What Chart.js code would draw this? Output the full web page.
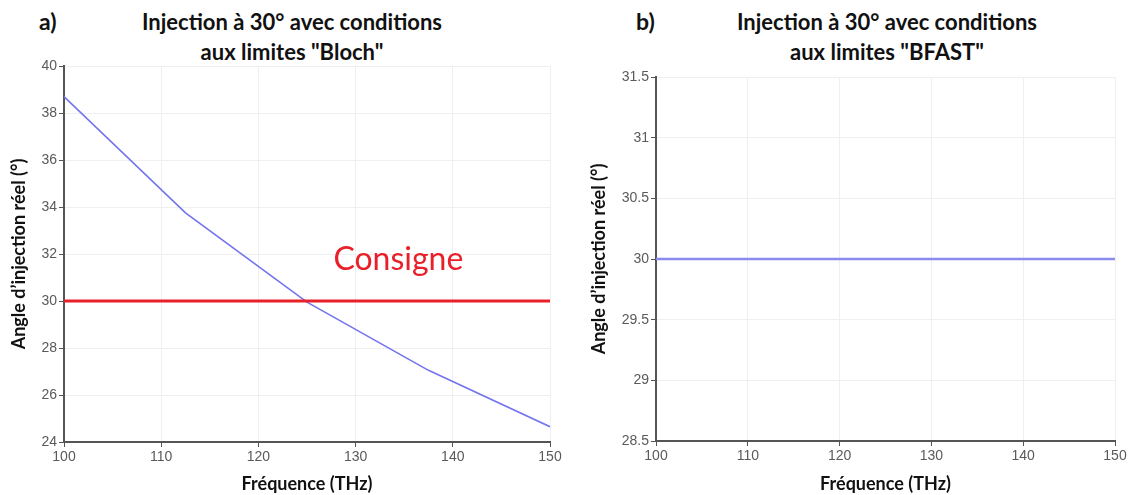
<!DOCTYPE html>
<html>
<head>
<meta charset="utf-8">
<script src="https://cdn.jsdelivr.net/npm/chart.js@4"></script>
<style>
  body { margin: 0; background: #fff; width: 1131px; height: 495px; position: relative; overflow: hidden; }
  .title { position: absolute; font-family: Lato, "Open Sans", sans-serif; font-weight: bold; font-size: 22px; color: #111; text-align: center; line-height: 30px; }
  .tag { position: absolute; font-family: Lato, "Open Sans", sans-serif; font-weight: bold; font-size: 23px; color: #111; }
  canvas { position: absolute; top: 0; }
</style>
</head>
<body>
<div class="tag" style="left:39px; top:7px;">a)</div>
<div class="title" style="left:90px; width:404px; top:7px;">Injection à 30° avec conditions<br>aux limites "Bloch"</div>
<div class="tag" style="left:636px; top:7px;">b)</div>
<div class="title" style="left:685px; width:404px; top:7px;">Injection à 30° avec conditions<br>aux limites "BFAST"</div>

<div style="position:absolute; left:0; top:0; width:565px; height:495px;"><canvas id="chartBloch"></canvas></div>
<div style="position:absolute; left:580px; top:0; width:551px; height:495px;"><canvas id="chartBfast"></canvas></div>

<script>
// Fréquence (THz) / angle réel (°)
const freqBloch = [100, 112.5, 125, 137.5, 150];
const angleBloch = [38.7, 33.75, 29.95, 27.05, 24.65];

const freqConsigne = [100, 150.3];
const angleConsigne = [30, 30];

const freqBfast = [100, 150];
const angleBfast = [30, 30];

const xTicks = [100, 110, 120, 130, 140, 150];
const yTicksBloch = [24, 26, 28, 30, 32, 34, 36, 38, 40];
const yTicksBfast = [28.5, 29, 29.5, 30, 30.5, 31, 31.5];

const toPoints = (xs, ys) => xs.map((x, i) => ({ x, y: ys[i] }));

// texte "Consigne" posé en coordonnées de données
const consigneLabel = {
  id: 'consigneLabel',
  afterDatasetsDraw(chart) {
    if (chart.canvas.id !== 'chartBloch') return;
    const { ctx, scales } = chart;
    ctx.save();
    ctx.font = '32px Lato, "Open Sans", sans-serif';
    ctx.fillStyle = '#e8202a';
    ctx.textAlign = 'center';
    ctx.textBaseline = 'middle';
    ctx.fillText('Consigne', scales.x.getPixelForValue(134.4), scales.y.getPixelForValue(31.75));
    ctx.restore();
  }
};

function makeChart(id, datasets, yTicks, yMin, yMax, yWidth, xHeight, padTop, padRight) {
  const tickFont = { family: '"Liberation Sans", Arial, sans-serif', size: 14 };
  const titleFont = { family: 'Lato, "Open Sans", sans-serif', size: 18, weight: 'bold' };
  return new Chart(document.getElementById(id), {
    type: 'line',
    data: { datasets },
    options: {
      responsive: true,
      maintainAspectRatio: false,
      animation: false,
      layout: { padding: { top: padTop, right: padRight, left: 0, bottom: 0 } },
      plugins: { legend: { display: false }, tooltip: { enabled: false } },
      elements: { point: { radius: 0 }, line: { tension: 0 } },
      scales: {
        x: {
          type: 'linear', min: 100, max: 150,
          afterBuildTicks: s => { s.ticks = xTicks.map(v => ({ value: v })); },
          afterFit: s => { s.height = xHeight; },
          ticks: { color: '#5a5a5a', font: tickFont, padding: 2 },
          grid: { color: '#efefef', tickColor: '#555', tickLength: 5 },
          border: { color: '#555', width: 2 },
          title: { display: true, text: 'Fréquence (THz)', color: '#111', font: titleFont, padding: { top: 4, bottom: 0 } }
        },
        y: {
          min: yMin, max: yMax,
          afterBuildTicks: s => { s.ticks = yTicks.map(v => ({ value: v })); },
          afterFit: s => { s.width = yWidth; },
          ticks: { color: '#5a5a5a', font: tickFont, padding: 2, callback: v => String(v) },
          grid: { color: '#efefef', tickColor: '#555', tickLength: 5 },
          border: { color: '#555', width: 2 },
          title: { display: true, text: 'Angle d\u2019injection réel (°)', color: '#111', font: titleFont, padding: { top: 8, bottom: 4 } }
        }
      }
    },
    plugins: [consigneLabel]
  });
}

makeChart('chartBloch', [
  { data: toPoints(freqConsigne, angleConsigne), borderColor: '#e8202a', borderWidth: 3 },
  { data: toPoints(freqBloch, angleBloch), borderColor: '#7474ee', borderWidth: 1.6 }
], yTicksBloch, 24, 40, 64, 53, 66, 15);

makeChart('chartBfast', [
  { data: toPoints(freqBfast, angleBfast), borderColor: '#8a8af0', borderWidth: 2.4 }
], yTicksBfast, 28.5, 31.5, 76, 54, 77, 16);
</script>
</body>
</html>
